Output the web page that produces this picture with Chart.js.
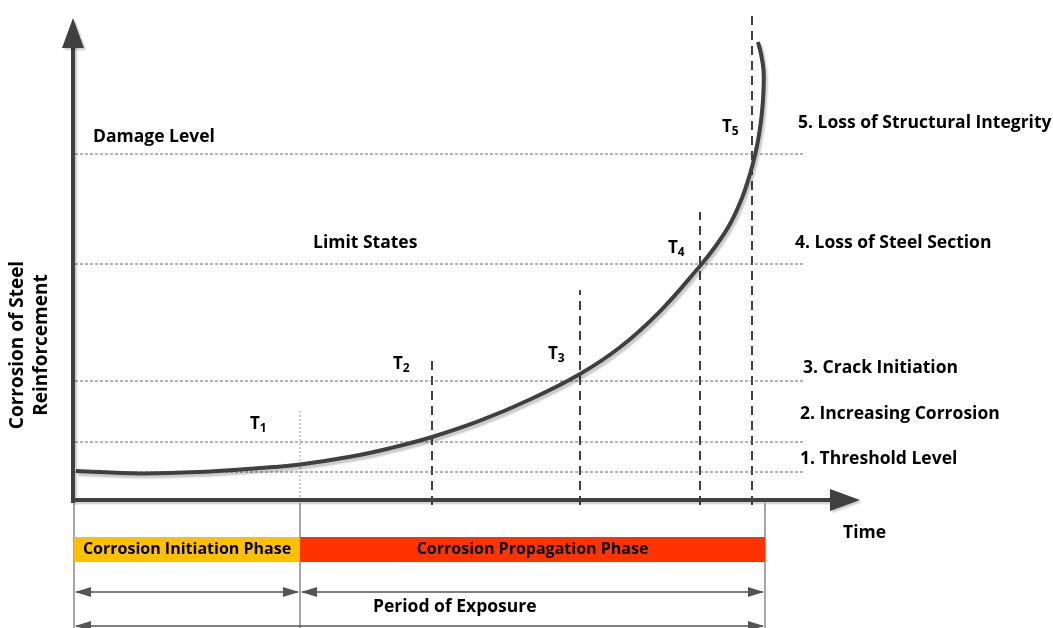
<!DOCTYPE html>
<html>
<head>
<meta charset="utf-8">
<script src="https://cdn.jsdelivr.net/npm/chart.js@4.4.1/dist/chart.umd.min.js"></script>
<style>
  body { margin: 0; background: #fff; }
  #wrap { width: 1053px; height: 628px; position: relative; }
</style>
</head>
<body>
<div id="wrap"><canvas id="chart"></canvas></div>
<script>
// time runs right from the origin, corrosion runs up from the origin
const curveTime = [3, 67, 127, 187, 227, 277, 317, 359, 407, 457, 507, 547, 587, 627, 642, 657, 669, 677, 682, 686, 689, 690.5, 690.5, 688, 685];
const curveCorrosion = [29, 26.5, 28, 32, 35.5, 43.2, 51.8, 63, 79.3, 100.5, 126, 152.7, 188.7, 234, 253, 276, 302, 326, 345, 365, 388, 410, 430, 446, 458];

const levelNames = ["1. Threshold Level", "2. Increasing Corrosion", "3. Crack Initiation", "4. Loss of Steel Section", "5. Loss of Structural Integrity"];
const levelValues = [28, 58, 119, 236, 346];

const stageNames = ["T1", "T2", "T3", "T4", "T5"];
const stageTimes = [227, 359, 507, 627, 679];
const stageTops = [90, 145, 210, 288, 490];

const phaseNames = ["Corrosion Initiation Phase", "Corrosion Propagation Phase"];
const phaseBounds = [1, 227, 692];

const DARK = "#404040";
const FONT = "'Open Sans', Lato, sans-serif";
const phaseColors = ["#FFC000", "#FF3300"];

// where the loose labels sit (diagram units)
const levelLabelPos = [[727, 41], [727, 86], [730, 132], [722, 257], [725, 377]];
const stageLabelPos = [[177, 76], [320, 136], [475, 146], [595, 252], [649, 373]];

const datasets = [];

datasets.push({
  label: "Corrosion",
  data: curveTime.map((t, i) => ({ x: t, y: curveCorrosion[i] })),
  borderColor: DARK,
  borderWidth: 4,
  tension: 0.4,
  pointRadius: 0,
  shadow: true,
});

levelValues.forEach((v, i) => {
  datasets.push({
    label: levelNames[i],
    data: [{ x: 2, y: v }, { x: 732, y: v }],
    borderColor: "#666",
    borderWidth: 1,
    borderDash: [3, 2],
    pointRadius: 0,
  });
});

stageTimes.forEach((t, i) => {
  datasets.push({
    label: stageNames[i],
    data: [{ x: t, y: -5 }, { x: t, y: stageTops[i] }],
    borderColor: i === 0 ? "#999" : DARK,
    borderWidth: i === 0 ? 1 : 2,
    borderDash: i === 0 ? [2, 2] : [9, 6],
    pointRadius: 0,
  });
});

const arrowHead = (ctx, x, y, dir, len, half) => {
  ctx.beginPath();
  if (dir === "up") {
    ctx.moveTo(x, y); ctx.lineTo(x - half, y + len); ctx.lineTo(x + half, y + len);
  } else if (dir === "right") {
    ctx.moveTo(x, y); ctx.lineTo(x - len, y - half); ctx.lineTo(x - len, y + half);
  } else {
    ctx.moveTo(x, y); ctx.lineTo(x + len, y - half); ctx.lineTo(x + len, y + half);
  }
  ctx.closePath();
  ctx.fill();
};

const diagramPlugin = {
  id: "diagram",
  beforeDatasetDraw(chart, args) {
    if (args.meta._dataset.shadow) {
      const ctx = chart.ctx;
      ctx.save();
      ctx.shadowColor = "rgba(0,0,0,0.22)";
      ctx.shadowOffsetX = 2;
      ctx.shadowOffsetY = 3;
      ctx.shadowBlur = 2;
    }
  },
  afterDatasetDraw(chart, args) {
    if (args.meta._dataset.shadow) chart.ctx.restore();
  },
  afterDatasetsDraw(chart) {
    const ctx = chart.ctx;
    const xs = chart.scales.x, ys = chart.scales.y;
    const px = (v) => xs.getPixelForValue(v);
    const py = (v) => ys.getPixelForValue(v);

    ctx.save();
    // axes
    ctx.shadowColor = "rgba(0,0,0,0.2)";
    ctx.shadowOffsetX = 2;
    ctx.shadowOffsetY = 2;
    ctx.shadowBlur = 2;
    ctx.strokeStyle = DARK;
    ctx.fillStyle = DARK;
    ctx.lineWidth = 4;
    ctx.beginPath();
    ctx.moveTo(px(0), py(-3));
    ctx.lineTo(px(0), py(455));
    ctx.moveTo(px(-2), py(0));
    ctx.lineTo(px(760), py(0));
    ctx.stroke();
    arrowHead(ctx, px(0), py(482), "up", 30, 11);
    arrowHead(ctx, px(787), py(0), "right", 30, 11);
    ctx.restore();

    // phase boundaries
    ctx.save();
    ctx.strokeStyle = "#888";
    ctx.lineWidth = 1.5;
    phaseBounds.forEach((b) => {
      ctx.beginPath();
      ctx.moveTo(px(b), py(-3));
      ctx.lineTo(px(b), py(-128));
      ctx.stroke();
    });

    // phase bars
    phaseNames.forEach((name, i) => {
      const x0 = px(phaseBounds[i]), x1 = px(phaseBounds[i + 1]);
      ctx.fillStyle = phaseColors[i];
      ctx.fillRect(x0, py(-37), x1 - x0, py(-62) - py(-37));
      ctx.fillStyle = "#000";
      ctx.font = "bold 16px " + FONT;
      ctx.textAlign = "center";
      ctx.textBaseline = "middle";
      ctx.fillText(name, (x0 + x1) / 2, py(-49.5));
    });

    // period arrows
    ctx.strokeStyle = "#555";
    ctx.fillStyle = "#555";
    ctx.lineWidth = 1.5;
    const spans = [[phaseBounds[0], phaseBounds[1], -92], [phaseBounds[1], phaseBounds[2], -92], [phaseBounds[0], phaseBounds[2], -126]];
    spans.forEach(([a, b, y]) => {
      ctx.beginPath();
      ctx.moveTo(px(a) + 2, py(y));
      ctx.lineTo(px(b) - 2, py(y));
      ctx.stroke();
      arrowHead(ctx, px(a) + 1, py(y), "left", 16, 5);
      arrowHead(ctx, px(b) - 1, py(y), "right", 16, 5);
    });
    ctx.restore();

    // texts
    ctx.save();
    ctx.fillStyle = "#000";
    ctx.textBaseline = "middle";
    ctx.textAlign = "left";
    ctx.font = "bold 17.5px " + FONT;
    levelNames.forEach((name, i) => {
      ctx.fillText(name, px(levelLabelPos[i][0]), py(levelLabelPos[i][1]));
    });
    ctx.fillText("Damage Level", px(20), py(363));
    ctx.fillText("Time", px(770), py(-33));
    ctx.fillText("Period of Exposure", px(300), py(-107));
    ctx.fillText("Limit States", px(240), py(257));

    stageNames.forEach((name, i) => {
      const x = px(stageLabelPos[i][0]), y = py(stageLabelPos[i][1]);
      ctx.font = "bold 17px " + FONT;
      ctx.fillText(name[0], x, y);
      const w = ctx.measureText(name[0]).width;
      ctx.font = "bold 12px " + FONT;
      ctx.fillText(name.slice(1), x + w, y + 5);
    });

    // y axis title
    ctx.translate(px(-43), py(155));
    ctx.rotate(-Math.PI / 2);
    ctx.textAlign = "center";
    ctx.font = "bold 19px " + FONT;
    ctx.fillText("Corrosion of Steel", 0, -12);
    ctx.fillText("Reinforcement", 0, 12);
    ctx.restore();
  },
};

new Chart(document.getElementById("chart"), {
  type: "line",
  data: { datasets },
  options: {
    responsive: true,
    maintainAspectRatio: false,
    animation: false,
    layout: { padding: 0 },
    plugins: { legend: { display: false }, tooltip: { enabled: false } },
    scales: {
      x: { type: "linear", min: -73, max: 980, display: false },
      y: { type: "linear", min: -128, max: 500, display: false },
    },
  },
  plugins: [diagramPlugin],
});
</script>
</body>
</html>
